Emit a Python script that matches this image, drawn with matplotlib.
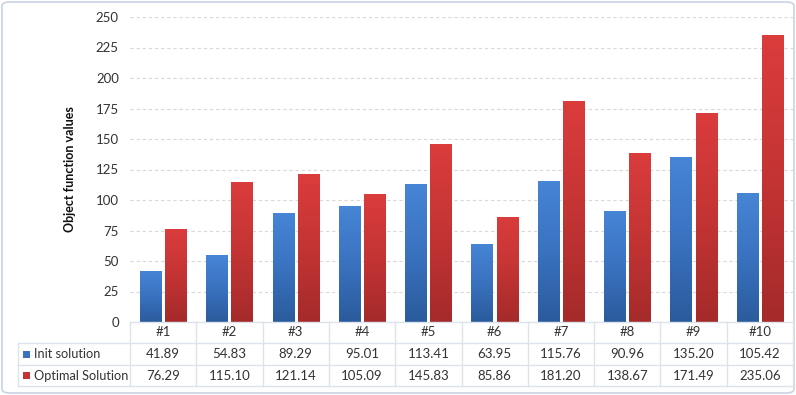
import numpy as np
import matplotlib
matplotlib.use("Agg")
import matplotlib.pyplot as plt
from matplotlib.patches import FancyBboxPatch, Rectangle
from matplotlib.colors import LinearSegmentedColormap

categories = ["#1", "#2", "#3", "#4", "#5", "#6", "#7", "#8", "#9", "#10"]
init_solution = [41.89, 54.83, 89.29, 95.01, 113.41, 63.95, 115.76, 90.96, 135.20, 105.42]
optimal_solution = [76.29, 115.10, 121.14, 105.09, 145.83, 85.86, 181.20, 138.67, 171.49, 235.06]
series_names = ["Init solution", "Optimal Solution"]
yticks = [0, 25, 50, 75, 100, 125, 150, 175, 200, 225, 250]

plt.rcParams['font.family'] = ['Lato', 'DejaVu Sans']

W, H = 796, 395
fig = plt.figure(figsize=(W / 100, H / 100), dpi=100)

def fx(px):
    return px / W

def fy(py):
    return 1 - py / H

# outer border
border = FancyBboxPatch((fx(2), fy(393)), fx(792), 1 - 4 / H, boxstyle="round,pad=0,rounding_size=0.01",
                        transform=fig.transFigure, facecolor="none", edgecolor="#c9d3e3", lw=1.2, zorder=-1)
fig.patches.append(border)

left_px, right_px, top_px, bot_px = 130, 793, 17, 322
ax = fig.add_axes([fx(left_px), fy(bot_px), fx(right_px - left_px), (bot_px - top_px) / H])
ax.set_facecolor("none")
n = len(categories)
x = np.arange(n)
ax.set_yticks(yticks)
ax.set_yticklabels([str(t) for t in yticks], fontsize=9.5, color="#333333")
ax.set_xticks([])
for s in ax.spines.values():
    s.set_visible(False)
ax.tick_params(axis='y', length=0, pad=8)
for t in yticks[1:]:
    ax.axhline(t, color="#d8d8d8", lw=0.8, ls=(0, (3, 2.5)), zorder=0)
ax.set_ylabel("Object function values", fontsize=9, fontweight="bold", labelpad=14, color="#111111")

blue_cmap = LinearSegmentedColormap.from_list("b", ["#2a5b9c", "#3a72c0", "#4785d6"])
red_cmap = LinearSegmentedColormap.from_list("r", ["#a52a2a", "#c43434", "#db3c3c"])
bw = 0.32
off = 0.19
grad = np.linspace(0, 1, 256).reshape(-1, 1)
for vals, o, cmap, c in [(init_solution, -off, blue_cmap, "#3a72c0"), (optimal_solution, off, red_cmap, "#c43434")]:
    bars = ax.bar(x + o, vals, width=bw, color=c, zorder=2)
    for b in bars:
        x0 = b.get_x()
        h = b.get_height()
        im = ax.imshow(grad, extent=(x0, x0 + bw, 0, h), origin="lower", cmap=cmap,
                       aspect="auto", zorder=3)
        im.set_clip_path(b)
ax.set_xlim(-0.5, n - 0.5)
ax.set_ylim(0, 250)

# data table
tax = fig.add_axes([0, 0, 1, 1])
tax.set_xlim(0, W)
tax.set_ylim(H, 0)
tax.axis("off")
tax.set_zorder(5)
lc = "#dde3ec"
row_y = [322, 343, 365, 386]
cell_w = (right_px - left_px) / n
tab_left = 18
tax.plot([left_px, right_px], [row_y[0], row_y[0]], color=lc, lw=1)
for yy in row_y[1:]:
    tax.plot([tab_left, right_px], [yy, yy], color=lc, lw=1)
for i in range(n + 1):
    xx = left_px + i * cell_w
    tax.plot([xx, xx], [row_y[0], row_y[3]], color=lc, lw=1)
tax.plot([tab_left, tab_left], [row_y[1], row_y[3]], color=lc, lw=1)

for i, c in enumerate(categories):
    cx = left_px + (i + 0.5) * cell_w
    tax.text(cx, (row_y[0] + row_y[1]) / 2, c, ha="center", va="center", fontsize=9.5, color="#333333")
    tax.text(cx, (row_y[1] + row_y[2]) / 2, f"{init_solution[i]:.2f}", ha="center", va="center", fontsize=9.5, color="#333333")
    tax.text(cx, (row_y[2] + row_y[3]) / 2, f"{optimal_solution[i]:.2f}", ha="center", va="center", fontsize=9.5, color="#333333")

for r, (name, col) in enumerate(zip(series_names, ["#3a72c0", "#c43434"])):
    cy = (row_y[r + 1] + row_y[r + 2]) / 2
    tax.add_patch(Rectangle((23, cy - 3.5), 7, 7, facecolor=col, edgecolor="none"))
    tax.text(34, cy, name, ha="left", va="center", fontsize=9.2, color="#333333")

fig.savefig("out.png", dpi=100)
